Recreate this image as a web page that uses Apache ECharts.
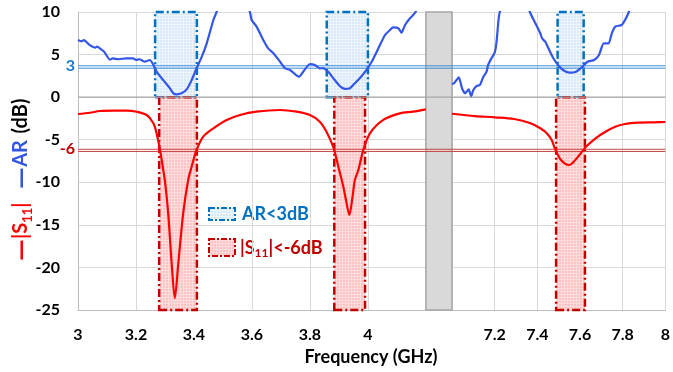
<!DOCTYPE html>
<html><head><meta charset="utf-8">
<script src="https://cdn.jsdelivr.net/npm/echarts@6/dist/echarts.min.js"></script>
<style>html,body{margin:0;padding:0;background:#fff}#c{width:673px;height:372px}</style>
</head><body><div id="c"></div>
<script>
// ---------- data ----------
const leftTickLabels  = ['3','3.2','3.4','3.6','3.8','4'];
const rightTickLabels = ['7.2','7.4','7.6','7.8','8'];
const leftRange  = [3, 4.29];
const rightRange = [7, 8];

const arLeftFreq = [3.000,3.012,3.020,3.041,3.060,3.065,3.080,3.090,3.110,3.120,3.140,3.165,3.190,3.200,3.212,3.230,3.248,3.260,3.271,3.294,3.317,3.329,3.340,3.357,3.375,3.392,3.409,3.427,3.444,3.467,3.478,3.500,3.550,3.580,3.593,3.599,3.616,3.639,3.656,3.674,3.697,3.714,3.731,3.748,3.763,3.777,3.800,3.817,3.834,3.845,3.863,3.881,3.903,3.921,3.938,3.955,3.972,3.995,4.013,4.036,4.059,4.076,4.087,4.105,4.116,4.128,4.145,4.156,4.164,4.200];
const arLeftVal  = [6.70,6.55,6.70,6.10,5.80,5.95,5.60,5.35,4.40,4.55,4.45,4.55,4.56,4.36,4.45,4.16,4.36,3.78,3.00,2.00,1.04,0.45,0.33,0.45,0.92,2.00,3.39,4.75,6.32,9.06,10.0,12.0,13.0,11.5,10.0,9.06,8.28,6.71,5.73,5.15,4.16,3.39,3.19,2.72,2.40,2.99,3.89,3.78,3.39,3.40,2.99,2.21,1.31,0.96,1.04,1.63,2.21,3.19,4.16,5.73,7.30,7.89,8.20,8.09,7.57,8.47,9.26,9.65,10.0,12.0];

const arRightFreq = [7.000,7.012,7.032,7.047,7.062,7.078,7.090,7.100,7.116,7.131,7.147,7.162,7.169,7.185,7.200,7.208,7.218,7.224,7.260,7.300,7.340,7.365,7.383,7.399,7.414,7.422,7.437,7.452,7.475,7.497,7.520,7.551,7.582,7.612,7.635,7.666,7.689,7.711,7.734,7.749,7.765,7.795,7.811,7.829,7.860,7.900,8.000];
const arRightVal  = [1.55,1.70,2.33,1.04,0.45,0.92,0.13,0.84,1.31,1.43,2.40,2.99,3.78,4.56,5.22,6.32,9.06,10.0,12.0,13.0,12.0,10.0,9.06,8.28,7.50,6.91,6.51,5.73,4.56,3.78,3.19,2.87,2.99,3.58,4.16,4.36,4.95,6.32,6.32,7.50,8.28,8.47,9.06,10.0,12.0,13.0,14.0];

const s11LeftFreq = [3.000,3.041,3.076,3.122,3.168,3.202,3.237,3.260,3.271,3.283,3.294,3.300,3.311,3.323,3.334,3.346,3.363,3.380,3.392,3.409,3.432,3.467,3.513,3.559,3.616,3.697,3.754,3.800,3.834,3.857,3.880,3.898,3.915,3.925,3.936,3.947,3.955,3.967,3.984,4.007,4.053,4.110,4.156,4.200];
const s11LeftVal  = [-1.98,-1.83,-1.63,-1.59,-1.59,-1.71,-2.10,-3.07,-4.25,-6.21,-8.56,-9.90,-13.6,-19.5,-23.6,-19.5,-13.6,-9.73,-8.17,-6.21,-4.64,-3.66,-2.68,-2.10,-1.71,-1.51,-1.71,-2.10,-2.88,-4.06,-5.82,-8.17,-10.5,-12.2,-13.84,-11.7,-9.73,-8.56,-6.21,-4.25,-2.68,-1.90,-1.71,-1.43];

const s11RightFreq = [7.000,7.108,7.200,7.291,7.368,7.414,7.444,7.467,7.482,7.505,7.528,7.548,7.566,7.597,7.628,7.673,7.719,7.765,7.811,7.872,7.948,8.000];
const s11RightVal  = [-1.95,-2.22,-2.37,-2.57,-3.07,-3.66,-4.25,-5.03,-6.01,-7.18,-7.77,-7.97,-7.70,-6.80,-5.82,-4.83,-4.06,-3.47,-3.15,-3.00,-2.96,-2.92];

const arBandsLeft   = [[3.266,3.410],[3.858,4.000]];
const arBandsRight  = [[7.495,7.617]];
const s11BandsLeft  = [[3.280,3.410],[3.884,3.990]];
const s11BandsRight = [[7.488,7.623]];

const arLimit  = [3.68, 3.40];   // drawn double line, labelled "3"
const s11Limit = [-6.12, -6.38]; // drawn double line, labelled "-6"
const breakBand = [4.2, 4.29];

// ---------- helpers ----------
const FONT = 'Lato';
const zip = (a, b) => a.map((x, i) => [x, b[i]]);
function pattern(base, line) {
  const c = document.createElement('canvas'); c.width = 3; c.height = 3;
  const g = c.getContext('2d');
  g.fillStyle = base; g.fillRect(0, 0, 3, 3);
  g.fillStyle = line; g.fillRect(0, 0, 3, 1); g.fillRect(0, 0, 1, 3);
  return { image: c, repeat: 'repeat' };
}
const bluePat = pattern('rgba(205,225,245,0.75)', 'rgba(240,246,252,0.8)');
const pinkPat = pattern('rgba(255,175,175,0.75)', 'rgba(255,225,225,0.8)');
const BLUE = '#0070C0', DRED = '#C00000';

const bandItem = (fill, border) => ({ color: fill, borderColor: border, borderWidth: 2.5, borderType: [8, 3, 2, 3] });
const bandData = (bands, y0, y1) => bands.map(b => [{ xAxis: b[0], yAxis: y0 }, { xAxis: b[1], yAxis: y1 }]);

function hSeries(gi, range, y, color, width, text, textColor) {
  return {
    type: 'line', xAxisIndex: gi, yAxisIndex: gi, z: 3, silent: true, animation: false,
    data: [[range[0], y], [range[1], y]],
    showSymbol: true, symbol: 'circle', symbolSize: 0.01,
    itemStyle: { color: color },
    lineStyle: { color: color, width: width, type: 'solid' },
    label: {
      show: !!text, position: 'left', distance: 3,
      formatter: p => (p.dataIndex === 0 ? text : ''),
      color: textColor, fontFamily: FONT, fontWeight: 'bold', fontSize: 16
    },
    emphasis: { disabled: true }
  };
}

const lineBase = { type: 'line', showSymbol: false, symbol: 'none', animation: false, clip: true };

const xAxisCommon = {
  type: 'value', interval: 0.2,
  axisLine: { show: true, onZero: false, lineStyle: { color: '#BFBFBF', width: 1 } },
  axisTick: { show: false },
  splitLine: { show: true, lineStyle: { color: '#D9D9D9', width: 1 } },
  axisLabel: { fontFamily: FONT, fontWeight: 'bold', fontSize: 16, color: '#000', margin: 17 }
};
const yAxisCommon = {
  type: 'value', min: -25, max: 10, interval: 5,
  axisLine: { show: false }, axisTick: { show: false },
  splitLine: { show: true, lineStyle: { color: '#D9D9D9', width: 1 } }
};
function lbl(v, list) {
  const s = String(Math.round(v * 10) / 10);
  return list.indexOf(s) >= 0 ? s : '';
}

const series = [
  // shaded bands
  { type: 'line', data: [], xAxisIndex: 0, yAxisIndex: 0, z: 1, silent: true,
    markArea: { silent: true, itemStyle: bandItem(bluePat, BLUE), data: bandData(arBandsLeft, 0, 10) } },
  { type: 'line', data: [], xAxisIndex: 0, yAxisIndex: 0, z: 1, silent: true,
    markArea: { silent: true, itemStyle: bandItem(pinkPat, DRED), data: bandData(s11BandsLeft, -25, 0) } },
  { type: 'line', data: [], xAxisIndex: 1, yAxisIndex: 1, z: 1, silent: true,
    markArea: { silent: true, itemStyle: bandItem(bluePat, BLUE), data: bandData(arBandsRight, 0, 10) } },
  { type: 'line', data: [], xAxisIndex: 1, yAxisIndex: 1, z: 1, silent: true,
    markArea: { silent: true, itemStyle: bandItem(pinkPat, DRED), data: bandData(s11BandsRight, -25, 0) } }
];
[[0, leftRange, true], [1, rightRange, false]].forEach(([gi, rg, lab]) => {
  series.push(hSeries(gi, rg, 0, '#A6A6A6', 1.2));
  series.push(hSeries(gi, rg, arLimit[0], '#3C8DD6', 1, lab ? '3' : '', '#1F78C8'));
  series.push(hSeries(gi, rg, arLimit[1], '#3C8DD6', 1));
  series.push(hSeries(gi, rg, s11Limit[0], '#C94545', 1, lab ? '-6' : '', DRED));
  series.push(hSeries(gi, rg, s11Limit[1], '#C94545', 1));
});
series.push(
  Object.assign({}, lineBase, { name: 'AR', xAxisIndex: 0, yAxisIndex: 0, z: 4, smooth: 0.2,
    data: zip(arLeftFreq, arLeftVal), lineStyle: { color: '#3356E6', width: 2.2 } }),
  Object.assign({}, lineBase, { name: 'S11', xAxisIndex: 0, yAxisIndex: 0, z: 4, smooth: 0.3,
    data: zip(s11LeftFreq, s11LeftVal), lineStyle: { color: '#FF0000', width: 2.2 } }),
  Object.assign({}, lineBase, { name: 'AR2', xAxisIndex: 1, yAxisIndex: 1, z: 4, smooth: 0.2,
    data: zip(arRightFreq, arRightVal), lineStyle: { color: '#3356E6', width: 2.2 } }),
  Object.assign({}, lineBase, { name: 'S112', xAxisIndex: 1, yAxisIndex: 1, z: 4, smooth: 0.3,
    data: zip(s11RightFreq, s11RightVal), lineStyle: { color: '#FF0000', width: 2.2 } }),
  // axis break bar
  { type: 'line', data: [], xAxisIndex: 0, yAxisIndex: 0, z: 10, silent: true,
    markArea: { silent: true,
      itemStyle: { color: '#D9D9D9', borderColor: '#A6A6A6', borderWidth: 1.5 },
      data: [[{ xAxis: breakBand[0], yAxis: -25 }, { xAxis: breakBand[1], yAxis: 10 }]] } }
);

const chart = echarts.init(document.getElementById('c'));
chart.setOption({
  backgroundColor: '#fff',
  animation: false,
  grid: [
    { left: 78, top: 12, width: 374, height: 298 },
    { left: 452, top: 12, width: 216, height: 298 }
  ],
  xAxis: [
    Object.assign({}, xAxisCommon, { gridIndex: 0, min: leftRange[0], max: leftRange[1],
      axisLabel: Object.assign({}, xAxisCommon.axisLabel, { formatter: v => lbl(v, leftTickLabels) }) }),
    Object.assign({}, xAxisCommon, { gridIndex: 1, min: rightRange[0], max: rightRange[1],
      axisLabel: Object.assign({}, xAxisCommon.axisLabel, { formatter: v => lbl(v, rightTickLabels) }) })
  ],
  yAxis: [
    Object.assign({}, yAxisCommon, { gridIndex: 0,
      axisLine: { show: true, lineStyle: { color: '#BFBFBF', width: 1 } },
      axisLabel: { fontFamily: FONT, fontWeight: 'bold', fontSize: 16, color: '#000', margin: 18 } }),
    Object.assign({}, yAxisCommon, { gridIndex: 1, axisLabel: { show: false } })
  ],
  series: series,
  graphic: [
    { type: 'text', x: 371, y: 357, silent: true,
      style: { text: 'Frequency (GHz)', fill: '#000', font: 'bold 18px ' + FONT, align: 'center', verticalAlign: 'middle' } },
    { type: 'text', x: 21, y: 180, rotation: Math.PI / 2, silent: true,
      style: {
        text: '{rd|—}{r||S}{rs|11}{r||}    {bd|—}{b|AR}  {k|(dB)}',
        align: 'center', verticalAlign: 'middle',
        rich: {
          rd: { fill: '#FF0000', font: 'bold 28px ' + FONT, lineHeight: 26, verticalAlign: 'middle' },
          r:  { fill: '#FF0000', font: 'bold 20px ' + FONT, lineHeight: 26, verticalAlign: 'middle' },
          rs: { fill: '#FF0000', font: 'bold 13px ' + FONT, lineHeight: 15, verticalAlign: 'bottom' },
          bd: { fill: '#3356E6', font: 'bold 28px ' + FONT, lineHeight: 26, verticalAlign: 'middle' },
          b:  { fill: '#3356E6', font: 'bold 20px ' + FONT, lineHeight: 26, verticalAlign: 'middle' },
          k:  { fill: '#000', font: 'bold 20px ' + FONT, lineHeight: 26, verticalAlign: 'middle' }
        }
      } },
    // legend
    { type: 'rect', silent: true, shape: { x: 209, y: 208, width: 26, height: 12 },
      style: { fill: bluePat, stroke: BLUE, lineWidth: 2, lineDash: [6, 2, 2, 2] } },
    { type: 'text', x: 242, y: 214, silent: true,
      style: { text: 'AR<3dB', fill: BLUE, font: 'bold 18px ' + FONT, verticalAlign: 'middle' } },
    { type: 'rect', silent: true, shape: { x: 209, y: 239, width: 26, height: 17 },
      style: { fill: pinkPat, stroke: DRED, lineWidth: 2, lineDash: [6, 2, 2, 2] } },
    { type: 'text', x: 240, y: 248, silent: true,
      style: {
        text: '{a||S}{s|11}{a||<-6dB}', verticalAlign: 'middle',
        rich: {
          a: { fill: DRED, font: 'bold 18px ' + FONT, lineHeight: 22, verticalAlign: 'middle' },
          s: { fill: DRED, font: 'bold 12px ' + FONT, lineHeight: 13, verticalAlign: 'bottom' }
        }
      } }
  ]
});
</script>
</body></html>
